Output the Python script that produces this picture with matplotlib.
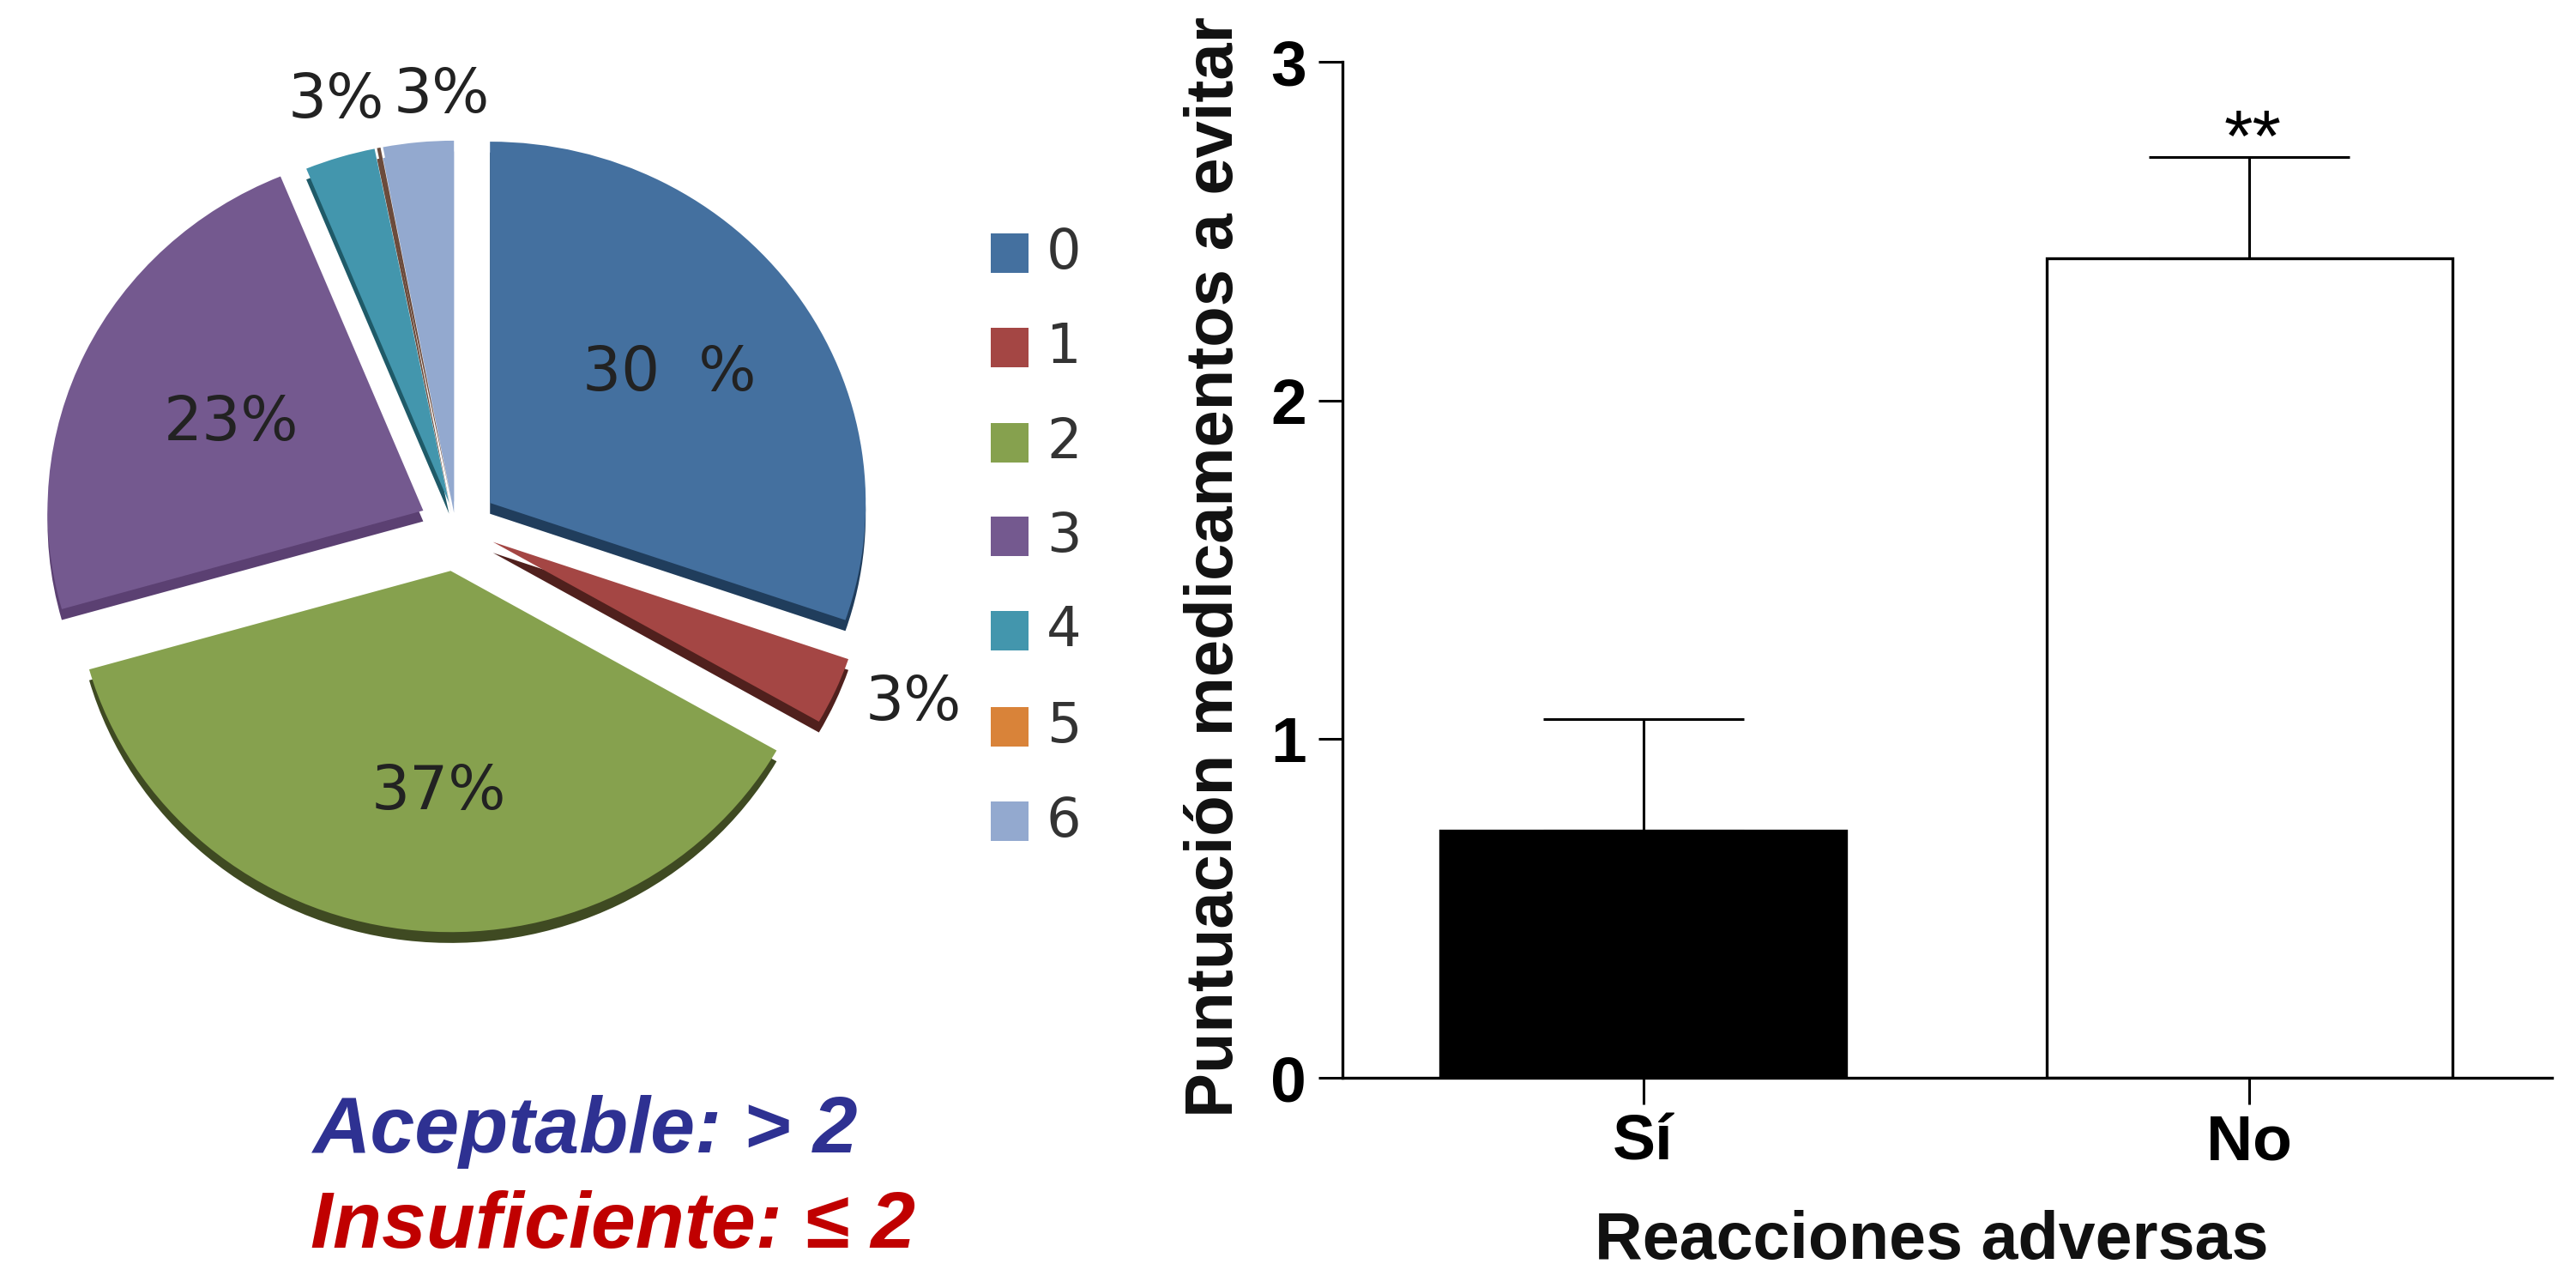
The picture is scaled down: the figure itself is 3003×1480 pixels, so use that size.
import matplotlib
matplotlib.use("Agg")
import matplotlib.pyplot as plt
from matplotlib.patches import Rectangle

W, H = 3003, 1480
pie_labels = ["0", "1", "2", "3", "4", "5", "6"]
pie_values = [30, 3, 37, 23, 3, 0.15, 3]
legend_colors = ["#44709F", "#A44644", "#86A14E", "#74598F", "#4396AD", "#D98339", "#93A9CF"]
pie_colors = ["#44709F", "#A44644", "#86A14E", "#74598F", "#4396AD", "#6B4B3C", "#93A9CF"]
pie_dark = ["#203D5C", "#50201D", "#3F4A22", "#5B4072", "#1F5A68", "#6B4B3C", "#93A9CF"]
pie_explode = [0.11, 0.107, 0.125, 0.098, 0.067, 0.067, 0.067]
pie_texts = ["30  %", "3%", "37%", "23%", "3%", "3%"]
bar_cats = ["Sí", "No"]
bar_vals = [0.73, 2.42]
bar_errs = [0.33, 0.30]
bar_cols = ["black", "white"]

plt.rcParams['font.family'] = ['Liberation Sans', 'DejaVu Sans']
fig = plt.figure(figsize=(W/200, H/200), dpi=200)

def axpx(x0, y0, x1, y1):
    return fig.add_axes([x0/W, 1-y1/H, (x1-x0)/W, (y1-y0)/H])

# Pie: centre (532, 613) px, radii 438 x 421 px
ax = axpx(532-1.2*438, 613-1.4*421, 532+1.2*438, 613+1.4*421)
ax.pie(pie_values, colors=pie_dark, explode=pie_explode, startangle=90, counterclock=False,
       radius=1, center=(0, -0.03), wedgeprops=dict(linewidth=0))
ax.pie(pie_values, colors=pie_colors, explode=pie_explode, startangle=90, counterclock=False,
       radius=1, center=(0, 0), wedgeprops=dict(linewidth=0))
ax.set_aspect('auto')
ax.set_xlim(-1.2, 1.2)
ax.set_ylim(-1.4, 1.4)
ax.axis('off')

def figtext(px, py, s, **kw):
    fig.text(px/W, 1-py/H, s, **kw)

pct_pos = [(780, 435), (1065, 820), (511, 923), (270, 493), (392, 118), (515, 112)]
for (px, py), s in zip(pct_pos, pie_texts):
    figtext(px, py, s, fontsize=25.5, family='DejaVu Sans', ha='center', va='center', color='#222222')

# Legend
leg_y = [295, 405, 516, 625, 735, 847, 957]
for lab, c, y in zip(pie_labels, legend_colors, leg_y):
    fig.add_artist(Rectangle((1155/W, 1-(y+23)/H), 44/W, 46/H, transform=fig.transFigure, color=c, lw=0))
    figtext(1220, y, lab, fontsize=23, family='DejaVu Sans', ha='left', va='center', color='#333333')

figtext(365, 1319, "Aceptable: > 2", fontsize=33.6, fontweight='bold', style='italic', color='#2E3192', ha='left', va='center')
figtext(362, 1430, "Insuficiente: ≤ 2", fontsize=33.6, fontweight='bold', style='italic', color='#C00000', ha='left', va='center')

# Bars
bx = axpx(1565, 72, 2975, 1256)
xs = [0, 1]
bx.bar(xs, bar_vals, width=0.67, color=bar_cols, edgecolor='black', linewidth=1.2)
for x, v, e in zip(xs, bar_vals, bar_errs):
    bx.errorbar(x, v, yerr=[[0], [e]], color='black', capsize=42, capthick=1.1, elinewidth=1.1, zorder=1)
bx.text(1.005, 2.66, "**", ha='center', va='bottom', fontsize=31, color='black')
bx.set_xlim(-0.496, 1.499)
bx.set_ylim(0, 3)
bx.set_yticks([0, 1, 2, 3])
bx.set_xticks(xs)
bx.set_xticklabels(bar_cats)
for s in ['top', 'right']:
    bx.spines[s].set_visible(False)
for s in ['left', 'bottom']:
    bx.spines[s].set_linewidth(1.2)
bx.tick_params(axis='y', length=10, width=1.1, labelsize=27, pad=5)
bx.tick_params(axis='x', length=11, width=1.1, labelsize=27, pad=4)
for t in bx.get_xticklabels() + bx.get_yticklabels():
    t.set_fontweight('bold')
figtext(2252, 1447, "Reacciones adversas", fontsize=27.8, fontweight='bold', ha='center', va='center', color='#111111')
figtext(1417, 661, "Puntuación medicamentos a evitar", fontsize=28, fontweight='bold', ha='center', va='center', rotation=90, color='#111111')

fig.savefig("out.png", dpi=200, facecolor='white')
